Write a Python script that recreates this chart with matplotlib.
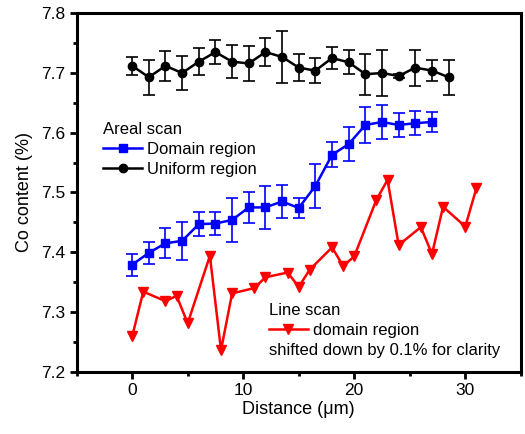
import numpy as np
import matplotlib.pyplot as plt
from matplotlib.ticker import MultipleLocator

plt.rcParams['font.family'] = ['Liberation Sans', 'DejaVu Sans']

# areal scan, uniform region
x_uni = np.arange(20) * 1.5
y_uni = [7.712, 7.693, 7.712, 7.700, 7.719, 7.735, 7.719, 7.716, 7.735, 7.727,
         7.709, 7.704, 7.725, 7.718, 7.698, 7.700, 7.695, 7.709, 7.704, 7.693]
e_uni = [0.015, 0.029, 0.025, 0.028, 0.023, 0.020, 0.028, 0.030, 0.024, 0.044,
         0.022, 0.021, 0.019, 0.020, 0.034, 0.039, 0.004, 0.030, 0.018, 0.029]

# areal scan, domain region
x_dom = np.arange(19) * 1.5
y_dom = [7.379, 7.399, 7.415, 7.419, 7.447, 7.448, 7.454, 7.475, 7.475, 7.485,
         7.474, 7.511, 7.563, 7.581, 7.613, 7.618, 7.613, 7.616, 7.618]
e_dom = [0.018, 0.018, 0.025, 0.032, 0.020, 0.020, 0.037, 0.026, 0.036, 0.027,
         0.017, 0.037, 0.021, 0.028, 0.030, 0.028, 0.020, 0.020, 0.017]

# line scan, domain region (already shifted down by 0.1 %)
x_line = [0, 1, 3, 4, 5, 7, 8, 9, 11, 12, 14, 15, 16, 18, 19, 20, 22, 23, 24,
          26, 27, 28, 30, 31]
y_line = [7.259, 7.334, 7.318, 7.327, 7.281, 7.394, 7.236, 7.331, 7.340, 7.358,
          7.366, 7.342, 7.371, 7.408, 7.377, 7.393, 7.488, 7.521, 7.412, 7.442,
          7.397, 7.476, 7.443, 7.507]

fig = plt.figure(figsize=(5.25, 4.34), dpi=100)
ax = fig.add_axes([0.146, 0.1436, 0.846, 0.8258])

blue = '#0000ff'
red = '#ff0000'

ax.errorbar(x_uni, y_uni, yerr=e_uni, fmt='none', ecolor='k', elinewidth=1.2,
            capsize=4.5, capthick=1.2)
l_uni, = ax.plot(x_uni, y_uni, '-o', color='k', lw=1.8, ms=6)

ax.errorbar(x_dom, y_dom, yerr=e_dom, fmt='none', ecolor=blue, elinewidth=1.2,
            capsize=4.5, capthick=1.2)
l_dom, = ax.plot(x_dom, y_dom, '-s', color=blue, lw=1.8, ms=5.5)

l_line, = ax.plot(x_line, y_line, '-v', color=red, lw=1.8, ms=7)

ax.set_xlim(-5, 35)
ax.set_ylim(7.2, 7.8)
ax.xaxis.set_major_locator(MultipleLocator(10))
ax.xaxis.set_minor_locator(MultipleLocator(5))
ax.yaxis.set_major_locator(MultipleLocator(0.1))
ax.yaxis.set_minor_locator(MultipleLocator(0.05))
ax.set_xticks([0, 10, 20, 30])
ax.tick_params(which='major', direction='out', length=5, width=2,
               labelsize=12.5, pad=3)
ax.tick_params(which='minor', direction='out', length=3, width=2)
for s in ax.spines.values():
    s.set_linewidth(2.2)

ax.set_xlabel('Distance (\u03bcm)', fontsize=13, labelpad=2)
ax.set_ylabel('Co content (%)', fontsize=13, labelpad=6)

leg1 = ax.legend([l_dom, l_uni], ['Domain region', 'Uniform region'],
                 title='Areal scan', alignment='left', loc='upper left',
                 bbox_to_anchor=(0.06, 0.696), frameon=False, fontsize=12,
                 title_fontsize=12, numpoints=1, handlelength=2.35,
                 handletextpad=0.3, labelspacing=0.3, borderpad=0,
                 borderaxespad=0)
ax.add_artist(leg1)

ax.legend([l_line], ['domain region'], title='Line scan', alignment='left',
          loc='upper left', bbox_to_anchor=(0.432, 0.191), frameon=False,
          fontsize=12, title_fontsize=12, numpoints=1, handlelength=2.35,
          handletextpad=0.3, labelspacing=0.3, borderpad=0, borderaxespad=0)
ax.text(0.434, 0.06, 'shifted down by 0.1% for clarity', transform=ax.transAxes,
        fontsize=12, va='center', ha='left')

fig.savefig('out.png', dpi=100)
